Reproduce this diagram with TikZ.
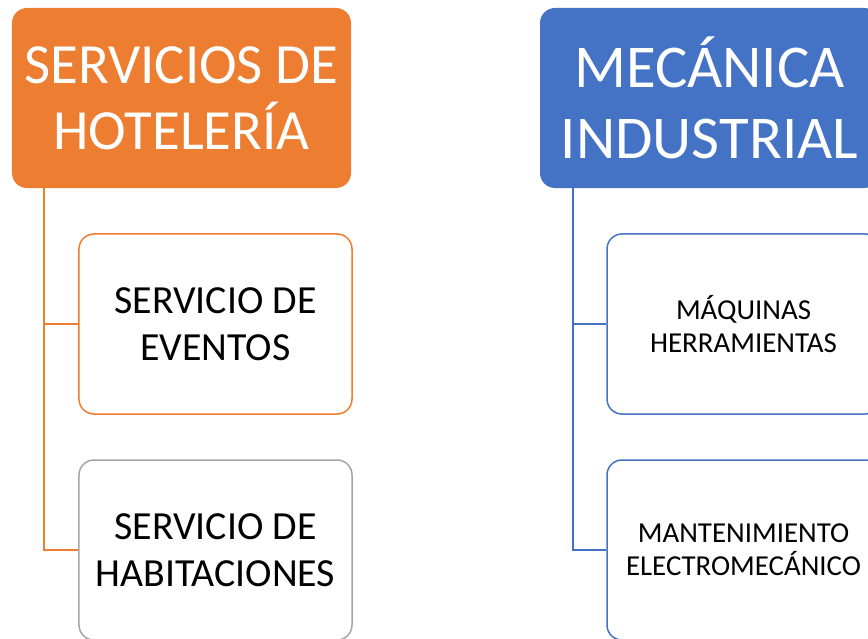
\documentclass[tikz,border=0pt]{standalone}
\usepackage{fontspec}
\setmainfont{Carlito}
\definecolor{hotelorange}{HTML}{ED7D31}
\definecolor{mecblue}{HTML}{4472C4}
\definecolor{boxgray}{HTML}{A5A5A5}

\begin{document}
\begin{tikzpicture}[x=1bp,y=-1bp,
head/.style={rounded corners=15bp, minimum width=339bp, minimum height=180bp,
    text=white, align=center, inner sep=0pt},
item/.style={draw, line width=1.5bp, fill=white, rounded corners=15bp,
    minimum width=273bp, minimum height=180bp, align=center, inner sep=0pt},
bigitem/.style={item, font=\fontsize{40}{47}\selectfont},
smallitem/.style={item, font=\fontsize{29}{33}\selectfont},
link/.style={line width=1.5bp}]
\clip (0,0) rectangle (868,639);
% left column
\node[head, fill=hotelorange, font=\fontsize{57}{66}\selectfont] (hotel) at (181.5,98) {SERVICIOS DE\\HOTELERÍA};
\node[bigitem, draw=hotelorange] (eventos) at (215.5,324) {SERVICIO DE\\EVENTOS};
\node[bigitem, draw=boxgray] (habit) at (215.5,550) {SERVICIO DE\\HABITACIONES};
\draw[link, hotelorange] ([xshift=32bp]hotel.south west) |- (eventos.west);
\draw[link, hotelorange] ([xshift=32bp]hotel.south west) |- (habit.west);
% right column
\node[head, fill=mecblue, font=\fontsize{61}{71}\selectfont] (mecanica) at (709.5,98) {MECÁNICA\\INDUSTRIAL};
\node[smallitem, draw=mecblue] (maquinas) at (743.5,324) {MÁQUINAS\\HERRAMIENTAS};
\node[smallitem, draw=mecblue] (manten) at (743.5,550) {MANTENIMIENTO\\ELECTROMECÁNICO};
\draw[link, mecblue] ([xshift=33bp]mecanica.south west) |- (maquinas.west);
\draw[link, mecblue] ([xshift=33bp]mecanica.south west) |- (manten.west);
\end{tikzpicture}
\end{document}
